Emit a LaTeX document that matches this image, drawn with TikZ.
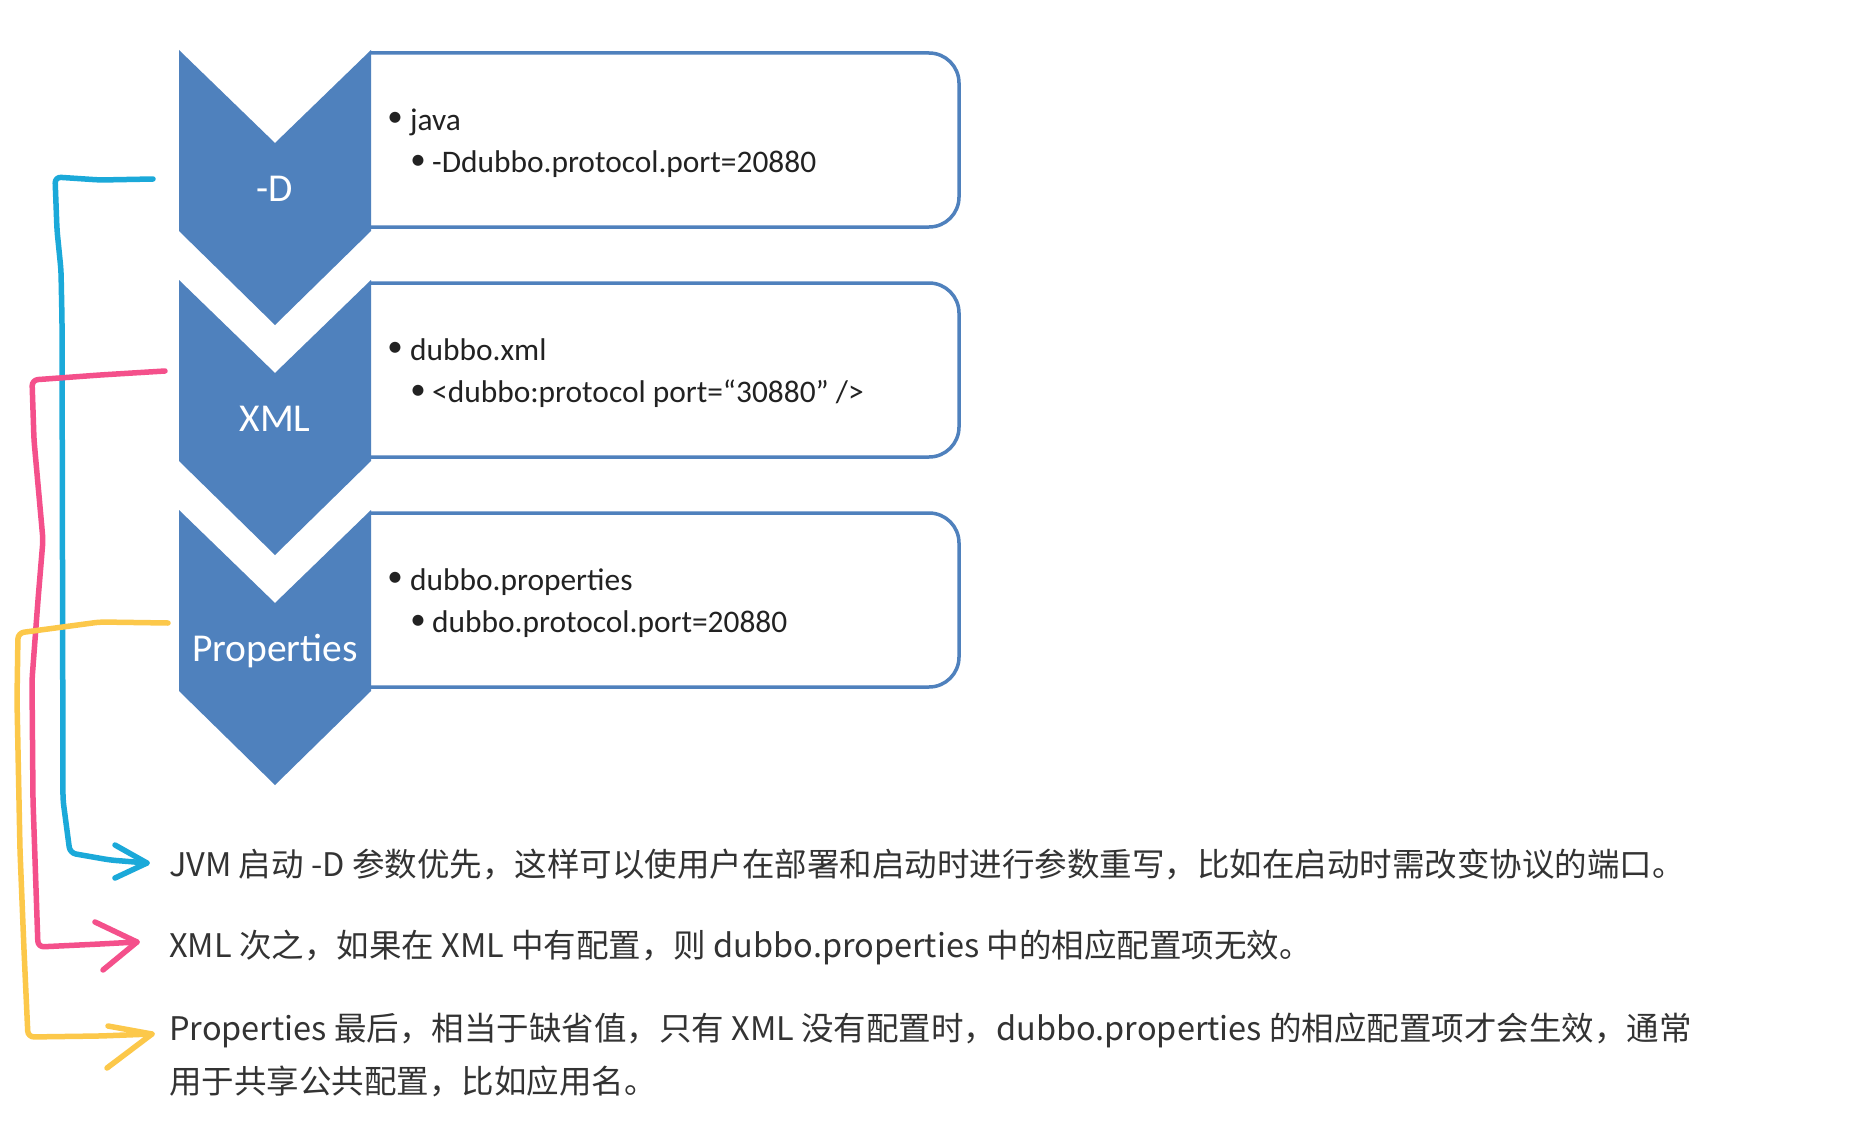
\documentclass[tikz,border=0pt]{standalone}
\usepackage{fontspec}
\newfontfamily\carl{Carlito}
\newfontfamily\cjk{Noto Sans CJK SC}
\definecolor{chevblue}{HTML}{4F81BD}
\definecolor{boxtxt}{HTML}{222222}
\definecolor{notetxt}{HTML}{333333}
\definecolor{hblue}{HTML}{1BA9D9}
\definecolor{hpink}{HTML}{F4508B}
\definecolor{hyellow}{HTML}{FCC84A}
\begin{document}
\begin{tikzpicture}[x=1pt,y=-1pt,
  chev/.style={fill=chevblue,draw=none},
  boxline/.style={draw=chevblue,line width=3.5pt,rounded corners=30pt,fill=white},
  lab/.style={text=white,font=\carl\fontsize{39.5}{44}\selectfont,inner sep=0pt,anchor=base},
  btxt/.style={text=boxtxt,font=\carl\fontsize{31.4}{36}\selectfont,inner sep=0pt,anchor=base west},
  bul/.style={text=boxtxt,font=\carl\fontsize{31}{36}\selectfont,inner sep=0pt,anchor=center},
  note/.style={text=notetxt,font=\cjk\fontsize{32.5}{38}\selectfont,inner sep=0pt,anchor=base west},
  hand/.style={line width=5.5pt,line cap=round,line join=round,rounded corners=6pt}]
\useasboundingbox (0,0) rectangle (1850,1132);
\fill[white] (0,0) rectangle (1850,1132);

% boxes
\foreach \T/\n in {50/1,280/2,510/3}{
  \draw[boxline] (370,\T+3) -- (959,\T+3) -- (959,\T+177) -- (370,\T+177);
}
% chevrons
\foreach \T/\n in {50/1,280/2,510/3}{
  \fill[chev] (179,\T) -- (275,\T+93) -- (371,\T) -- (371,\T+181) -- (275,\T+275) -- (179,\T+181) -- cycle;
}
\node[lab] (lD) at (275,201) {-D};
\node[lab] (lX) at (275,431) {XML};
\node[lab] (lP) at (275,661) {Properties};

% box texts
\node[bul] (b11) at (395,119) {•};
\node[btxt] (t11) at (410,130) {java};
\node[bul] (b12) at (418,162) {•};
\node[btxt] (t12) at (432,172) {-Ddubbo.protocol.port=20880};

\node[bul] (b21) at (395,349) {•};
\node[btxt] (t21) at (410,360) {dubbo.xml};
\node[bul] (b22) at (418,392) {•};
\node[btxt] (t22) at (432,402) {<dubbo:protocol port=“30880” />};

\node[bul] (b31) at (395,579) {•};
\node[btxt] (t31) at (410,590) {dubbo.properties};
\node[bul] (b32) at (418,622) {•};
\node[btxt] (t32) at (432,632) {dubbo.protocol.port=20880};

% notes
\node[note] (n1) at (169,876) {JVM 启动 -D 参数优先，这样可以使用户在部署和启动时进行参数重写，比如在启动时需改变协议的端口。};
\node[note] (n2) at (169,957) {XML 次之，如果在 XML 中有配置，则 dubbo.properties 中的相应配置项无效。};
\node[note] (n3) at (169,1040) {Properties 最后，相当于缺省值，只有 XML 没有配置时，dubbo.properties 的相应配置项才会生效，通常};
\node[note] (n3b) at (169,1093) {用于共享公共配置，比如应用名。};

% hand-drawn connectors
\coordinate (sB) at (153,179);
\coordinate (tipB) at (147,863);
\coordinate (sP) at (165,371);
\coordinate (tipP) at (137,942);
\coordinate (sY) at (168,623);
\coordinate (tipY) at (152,1034);

\draw[hand,hblue] (sB) -- (100,180) -- (55,177) -- (57,230) -- (61,270) -- (62,320) -- (63,800) -- (70,853) -- (110,860) -- (tipB);
\draw[hand,hblue,sharp corners] (115,845) -- (tipB) -- (115,878);

\draw[hand,hpink] (sP) -- (100,375) -- (32,380) -- (34,440) -- (43,540) -- (38,600) -- (32,680) -- (33,800) -- (38,947) -- (100,944) -- (tipP);
\draw[hand,hpink,sharp corners] (95,922) -- (tipP) -- (103,970);

\draw[hand,hyellow] (sY) -- (100,622) -- (18,633) -- (17,700) -- (20,850) -- (24,950) -- (28,1037) -- (100,1036) -- (tipY);
\draw[hand,hyellow,sharp corners] (108,1026) -- (tipY) -- (107,1068);
\end{tikzpicture}
\end{document}
